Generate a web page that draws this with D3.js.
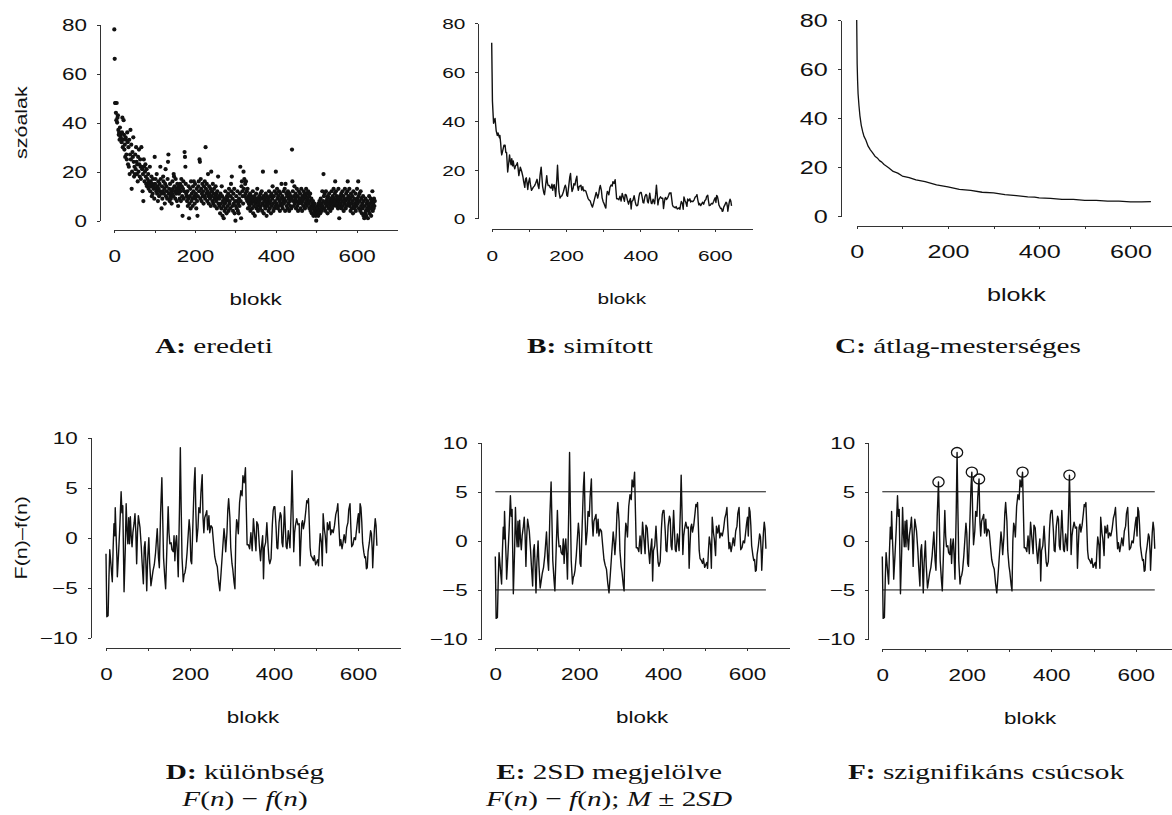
<!DOCTYPE html>
<html>
<head>
<meta charset="utf-8">
<script src="https://cdn.jsdelivr.net/npm/d3@7"></script>
<style>
  body { margin: 0; background: #fff; }
  svg { display: block; }
  .axis path, .axis line { stroke: #333; stroke-width: 1; shape-rendering: crispEdges; }
  .axis text { font-family: "Liberation Sans", Arial, sans-serif; fill: #111; }
  .axis-title { font-family: "Liberation Sans", Arial, sans-serif; fill: #111; }
  .caption { font-family: "Liberation Serif", "Times New Roman", serif; fill: #111; }
</style>
</head>
<body>
<script>

//------------------------------------------------------------------------------
// Data
//------------------------------------------------------------------------------

var blockTicks = [0, 100, 200, 300, 400, 500, 600];
var countTicks = [0, 20, 40, 60, 80];
var diffTicks = [-10, -5, 0, 5, 10];

// A: word forms per block (one value per block, 0..645)
var wordCounts = [
  78,66,48,48,44,41,48,40,42,43,37,35,36,33,38,35,34,33,32,36,
  42,30,33,41,35,29,31,26,34,33,27,25,36,32,23,30,22,33,19,27,
  37,25,31,13,20,28,26,34,24,18,22,19,27,21,30,24,19,23,16,26,
  20,29,23,18,25,22,17,30,22,21,12,19,8,25,22,16,20,23,18,15,
  21,14,17,15,19,13,16,15,22,12,16,14,18,10,15,11,17,13,14,9,
  26,15,17,13,12,19,11,14,8,16,13,10,15,12,22,17,11,5,14,9,
  12,18,16,11,13,7,15,21,10,14,12,9,17,24,27,11,13,8,15,10,
  9,12,7,11,16,13,10,19,18,14,12,9,17,11,13,8,15,12,6,14,
  11,13,9,15,12,8,17,14,10,2,13,16,9,12,28,26,22,15,11,10,
  8,12,6,9,14,1,7,10,13,5,16,8,11,9,6,14,12,16,10,7,
  15,9,11,5,13,8,2,10,14,16,12,25,24,9,17,13,8,11,15,10,
  12,7,14,10,16,9,30,13,11,15,8,12,19,10,7,14,11,9,13,6,
  20,10,12,8,15,7,11,13,9,6,10,14,8,11,5,12,9,18,7,10,
  6,9,3,11,7,5,14,10,2,8,6,1,9,4,7,12,5,8,3,10,
  9,6,11,4,13,7,8,5,10,15,12,18,6,9,4,11,7,13,3,8,
  0,6,10,5,8,12,4,7,3,9,6,11,22,8,1,14,16,12,10,7,
  20,13,17,10,15,11,16,9,12,8,13,5,10,7,9,6,11,4,8,10,
  7,5,9,12,3,8,6,10,2,7,9,11,5,8,13,6,4,9,7,10,
  8,5,11,6,9,12,4,7,20,10,3,8,6,9,5,11,7,2,10,8,
  6,9,4,12,7,5,10,8,3,11,6,9,14,7,4,10,5,12,8,6,
  20,11,7,13,9,5,10,6,12,8,4,11,7,9,15,6,10,5,8,12,
  7,9,13,4,15,8,11,6,10,5,12,7,9,4,11,8,6,10,5,9,
  29,16,12,8,6,10,14,7,9,11,5,8,13,6,10,4,7,12,9,8,
  11,5,9,13,7,4,10,8,6,12,9,11,5,10,7,13,8,6,11,9,
  12,7,10,5,8,11,4,6,9,3,7,5,8,2,6,4,7,3,5,2,
  0,4,6,3,5,2,7,4,8,6,3,9,5,7,4,12,6,8,19,10,
  5,11,7,4,12,8,6,9,3,10,7,5,11,8,6,4,9,7,12,5,
  8,10,6,13,9,7,11,16,8,12,6,10,9,7,5,13,8,1,6,10,
  9,7,11,5,8,12,6,10,4,9,7,13,8,5,11,6,9,12,16,7,
  10,8,13,6,9,4,11,7,5,10,8,3,12,6,9,5,7,11,4,8,
  6,13,9,7,16,10,5,11,8,4,12,6,9,3,7,5,10,2,8,1,
  6,3,9,4,2,7,5,8,1,6,4,10,3,7,5,9,2,8,6,12,
  4,7,5,9,6,8
];

// B: smoothed series F(n), [block, value]
var smoothSeries = [
  [0,72],[1,60],[2,48],[4,42],[5,39],[7,40],[9,41],[12,36],[15,34],[17,35],[19,34],[21,33],
  [22,34],[24,31],[26,27],[27,26],[30,28],[33,30],[36,30],[38,27],[40,27],[43,19],[46,23],
  [48,26],[50,23.5],[52,22],[54,24.5],[56,21.5],[58,23.5],[60,21.4],[62,20.3],[64,21.5],
  [67,22],[69,22.8],[71,20.5],[73,17.5],[75,19.3],[77,21],[79,20],[81,19],[84,17],[86,15],
  [89,12.7],[91,16.2],[93,16.6],[95,14.5],[97,11.8],[99,14.6],[102,16.5],[104,14],[107,11.5],
  [109,12],[112,12.8],[115,13.3],[118,14.3],[122,16],[125,13.2],[127,12.2],[130,17.6],[133,21],
  [135,17],[137,13],[140,10.5],[142,9.7],[145,13.5],[148,17.5],[150,14.5],[152,13.4],[155,13.5],
  [157,12.6],[160,12.4],[162,14],[164,11.5],[166,13.2],[168,13.8],[170,12],[172,9],[175,15.8],
  [177,21.8],[179,15.8],[181,10.8],[184,8.3],[186,9],[188,9.1],[190,9.6],[193,11],[196,12.8],
  [198,13.6],[200,12.5],[202,9.4],[204,9],[207,13],[210,17],[212,18.4],[214,13.9],[216,11],
  [219,12.3],[221,14.2],[224,13.7],[226,15.5],[229,17.3],[231,13],[233,11.5],[235,13],[238,13.3],
  [240,13.6],[242,11.6],[245,13],[247,11.3],[250,11.5],[253,11.2],[256,9.7],[259,8.2],[262,7.5],
  [265,7.1],[268,5.6],[271,4.6],[274,6.3],[277,8.2],[281,10.6],[283,9.7],[285,8.3],[288,10.2],
  [290,12.4],[292,13.5],[295,11.4],[297,8.4],[300,6.7],[302,6.1],[305,4.8],[307,4.2],[309,9.3],
  [311,11],[313,10.6],[315,9.6],[318,12.6],[321,13.7],[324,13.2],[326,15],[329,14.3],[332,15.8],
  [334,11.8],[336,8],[339,8],[342,7.6],[345,9.1],[348,7.1],[351,10.2],[354,8.6],[357,7],
  [359,9.8],[362,9.5],[365,7.4],[368,5.8],[370,7],[373,8.1],[375,3.8],[377,6.9],[380,7.4],
  [383,9.3],[386,6.8],[388,5.5],[390,5.1],[393,5.5],[396,8.9],[398,10.3],[400,10.6],[402,10.6],
  [405,8.4],[407,6.4],[409,6.3],[412,8.9],[415,9.8],[417,9.5],[419,6.8],[421,6.3],[423,8.2],
  [425,10.3],[427,8.2],[429,6.2],[431,6],[434,7.8],[436,7],[438,6],[441,9.9],[443,13.6],
  [445,9.9],[447,5.5],[449,7.4],[451,8.1],[454,8.8],[457,8.2],[460,8.2],[462,4],[464,6.3],
  [466,8.2],[468,8.5],[470,7.7],[473,8.3],[476,9.5],[478,10.4],[480,10.2],[482,10.5],[484,8.1],
  [486,5.6],[488,4.8],[491,4.6],[494,4.3],[496,4.8],[499,3.8],[501,4],[504,4.3],[506,3.7],
  [508,5.5],[510,6.9],[513,6],[515,3.7],[517,8.8],[520,7.2],[522,6.6],[525,4.9],[527,7.9],
  [530,7.2],[533,8],[535,6.7],[538,7.1],[541,6.8],[544,7.5],[547,8.6],[550,9.1],[552,9.7],
  [554,7.8],[557,5.5],[559,6.1],[562,5.2],[564,5.7],[567,6.6],[570,5.8],[573,7.2],[576,7.7],
  [578,9],[581,9.5],[583,7.1],[585,5.2],[588,5.4],[591,6.1],[594,5.9],[597,7],[599,7.8],
  [601,8.4],[603,6.5],[605,9.4],[607,9],[609,7.6],[611,5.5],[614,4.5],[616,4],[618,4.1],
  [620,2.9],[622,3],[624,4.6],[627,5.5],[630,6.6],[632,6.3],[634,4.6],[635,2.9],[637,4.9],
  [639,6.7],[641,7.8],[643,7.1],[645,5.1]
];

// C: average of the artificial texts f(n), [block, value]
var averageSeries = [
  [0,80],[1,62],[2,55],[3,50],[5,45],[7,41],[10,37],[13,34.5],[16,32.5],[20,31],[25,28.5],
  [30,27],[35,25.8],[40,24.4],[45,23.7],[50,22.6],[55,22],[60,21],[70,19.7],[80,18.2],
  [90,17.5],[100,16.3],[115,15.7],[130,14.7],[150,14],[175,12.7],[200,11.9],[225,10.9],
  [250,10.5],[275,9.7],[300,9.4],[325,8.7],[350,8.3],[375,7.8],[390,7.7],[400,7.4],[425,7.2],
  [450,6.8],[475,6.8],[500,6.4],[525,6.4],[550,6.1],[575,6.1],[600,5.8],[625,5.8],[645,5.9]
];

// D-F: difference F(n) - f(n), [block, value]
var diffSeries = [
  [0,-1.6],[2,-7.9],[5,-7.8],[7,-4],[9,-1.2],[12,-2.8],[15,-4.4],[17,-1],[19,1.4],[21,0.2],
  [22,3.0],[24,0.3],[26,-2],[27,-3.9],[30,-1.5],[33,1.2],[36,4.6],[38,2.5],[40,3.2],[43,-5.4],
  [46,-1],[48,3.4],[50,0.8],[52,-0.6],[54,2.0],[56,-0.6],[58,2.1],[60,0.2],[62,-0.9],[64,0.5],
  [67,1.5],[69,2.4],[71,0.6],[73,-2.6],[75,0.5],[77,2.2],[79,1.6],[81,1.0],[84,-0.9],[86,-2.5],
  [89,-4.6],[91,-1],[93,-0.4],[95,-2.6],[97,-5.3],[99,-2.3],[102,0],[104,-2.5],[107,-4.8],
  [109,-4.2],[112,-3.3],[115,-2.7],[118,-1.5],[122,0.9],[125,-2],[127,-3],[130,2.5],[133,6.0],
  [135,2],[137,-2],[140,-4],[142,-5.1],[145,-1],[148,3.1],[150,0.5],[152,-0.6],[155,-0.5],
  [157,-1.2],[160,-1.4],[162,0.2],[164,-2.3],[166,-0.5],[168,0.2],[170,-1.5],[172,-3.9],[175,3],
  [177,9.0],[179,3],[181,-2],[184,-4.4],[186,-3.7],[188,-3.5],[190,-3],[193,-1.5],[196,0.5],
  [198,1.8],[200,0.8],[202,-2.3],[204,-2.6],[207,1.5],[210,5.5],[212,7.0],[214,2.5],[216,-0.4],
  [219,1],[221,3],[224,2.5],[226,4.5],[229,6.3],[231,2.0],[233,0.5],[235,2],[238,2.4],[240,2.7],
  [242,0.8],[245,2.2],[247,0.5],[250,1.2],[253,1.0],[256,-0.5],[259,-1.9],[262,-2.5],[265,-2.9],
  [268,-4.3],[271,-5.3],[274,-3.5],[277,-1.6],[281,0.9],[283,0],[285,-1.4],[288,0.5],[290,2.8],
  [292,3.9],[295,2],[297,-1],[300,-2.6],[302,-3.2],[305,-4.5],[307,-5.1],[309,0],[311,1.8],
  [313,1.4],[315,0.4],[318,3.5],[321,4.7],[324,4.2],[326,6.2],[329,5.5],[332,7.0],[334,3],
  [336,-0.7],[339,-0.7],[342,-1.1],[345,0.5],[348,-1.3],[351,1.9],[354,0.3],[357,-1.3],
  [359,1.6],[362,1.3],[365,-0.7],[368,-2.3],[370,-1],[373,0.2],[375,-4.1],[377,-1],[380,-0.5],
  [383,1.5],[386,-0.9],[388,-2.2],[390,-2.6],[393,-2.1],[396,1.3],[398,2.7],[400,3.1],
  [402,3.1],[405,1],[407,-1],[409,-1.1],[412,1.5],[415,2.5],[417,2.2],[419,-0.5],[421,-0.9],
  [423,1],[425,3.1],[427,1],[429,-0.9],[431,-1.1],[434,0.7],[436,0],[438,-1.0],[441,3],
  [443,6.7],[445,3],[447,-1.4],[449,0.5],[451,1.2],[454,1.9],[457,1.3],[460,1.4],[462,-2.8],
  [464,-0.5],[466,1.4],[468,1.7],[470,0.9],[473,1.6],[476,2.8],[478,3.7],[480,3.5],[482,3.9],
  [484,1.5],[486,-1],[488,-1.8],[491,-2],[494,-2.3],[496,-1.8],[499,-2.7],[501,-2.5],[504,-2.2],
  [506,-2.8],[508,-1],[510,0.4],[513,-0.5],[515,-2.8],[517,2.4],[520,0.8],[522,0.2],[525,-1.5],
  [527,1.5],[530,0.8],[533,1.6],[535,0.3],[538,0.8],[541,0.5],[544,1.2],[547,2.3],[550,2.8],
  [552,3.4],[554,1.5],[557,-0.8],[559,-0.2],[562,-1.1],[564,-0.6],[567,0.3],[570,-0.5],[573,1],
  [576,1.5],[578,2.8],[581,3.4],[583,1.0],[585,-0.9],[588,-0.7],[591,0],[594,-0.2],[597,1.0],
  [599,1.8],[601,2.4],[603,0.5],[605,3.4],[607,3.0],[609,1.6],[611,-0.5],[614,-1.5],[616,-2],
  [618,-1.9],[620,-3.1],[622,-3.0],[624,-1.4],[627,-0.5],[630,0.7],[632,0.4],[634,-1.3],
  [635,-3.0],[637,-1],[639,0.8],[641,1.9],[643,1.2],[645,-0.8]
];

// E/F: M +- 2SD limits and the blocks of the significant peaks
var sdLimits = [5, -5];
var sdSpan = [0, 645];
var peakBlocks = [133, 177, 212, 229, 332, 443];

var captionKeys = ["A:", "B:", "C:", "D:", "E:", "F:"];
var captionNames = ["eredeti", "simított", "átlag-mesterséges", "különbség", "2SD megjelölve", "szignifikáns csúcsok"];
// second caption lines: [text, italic]
var formulaD = [["F",1],["(",0],["n",1],[") \u2212 ",0],["f",1],["(",0],["n",1],[")",0]];
var formulaE = formulaD.concat([["; ",0],["M",1],[" \u00b1 2",0],["SD",1]]);

//------------------------------------------------------------------------------
// Layout
//------------------------------------------------------------------------------

var W = 1172, H = 815;
var SX = 1.36;    // the figure is stretched horizontally

var panels = [
  { id:"A", yAxisX:100,   yTop:24.5,  yBottom:220.7, yDomain:[0,80],   yTicks:countTicks,
    xAxisY:230,   x0:114.3, x7:397,  font:16.5, yTitle:"szóalak", cap:[214,353] },
  { id:"B", yAxisX:478.3, yTop:23.3,  yBottom:218.3, yDomain:[0,80],   yTicks:countTicks,
    xAxisY:228.7, x0:491.7, x7:752,  font:15.3, cap:[590,353] },
  { id:"C", yAxisX:840.7, yTop:20,    yBottom:216,   yDomain:[0,80],   yTicks:countTicks,
    xAxisY:225.7, x0:856.7, x7:1176, font:18.5, cap:[958,353] },
  { id:"D", yAxisX:90.7,  yTop:437.7, yBottom:637.7, yDomain:[-10,10], yTicks:diffTicks,
    xAxisY:647.7, x0:106,   x7:400,  font:16.5, yTitle:"F(n)\u2013f(n)", cap:[245,779], formula:formulaD },
  { id:"E", yAxisX:480.7, yTop:442.7, yBottom:639,   yDomain:[-10,10], yTicks:diffTicks,
    xAxisY:648.3, x0:495.3, x7:789,  font:16.5, cap:[609,779], formula:formulaE },
  { id:"F", yAxisX:868.3, yTop:442.7, yBottom:639,   yDomain:[-10,10], yTicks:diffTicks,
    xAxisY:649.3, x0:882.3, x7:1178, font:16.5, cap:[986,779] }
];

var svg = d3.select("body").append("svg")
  .attr("width", W)
  .attr("height", H);

//--------------------------------------
// Axes for one panel
//--------------------------------------

function drawAxes(p) {
  var g = svg.append("g").attr("class", "panel-" + p.id);
  p.x = d3.scaleLinear().domain([0, 700]).range([p.x0, p.x7]);
  p.y = d3.scaleLinear().domain(p.yDomain).range([p.yBottom, p.yTop]);

  g.append("g")
    .attr("class", "axis")
    .attr("transform", "translate(" + p.yAxisX + ",0)")
    .call(d3.axisLeft(p.y).tickValues(p.yTicks).tickSize(3).tickSizeOuter(0))
    .call(function(a) {
      a.selectAll("text")
        .attr("x", null).attr("dy", "0.36em")
        .attr("transform", "translate(-13,0) scale(" + SX + ",1)")
        .style("font-size", p.font + "px");
    });

  g.append("g")
    .attr("class", "axis")
    .attr("transform", "translate(0," + p.xAxisY + ")")
    .call(d3.axisBottom(p.x).tickValues(blockTicks).tickSize(3).tickSizeOuter(0)
      .tickFormat(function(d) { return d % 200 == 0 ? d : ""; }))
    .call(function(a) {
      a.selectAll("text")
        .attr("y", null).attr("dy", null)
        .attr("transform", "translate(0,32) scale(" + SX + ",1)")
        .style("font-size", p.font + "px");
    });

  g.append("text")
    .attr("class", "axis-title")
    .attr("text-anchor", "middle")
    .attr("transform", "translate(" + ((p.x0 + p.x7) / 2) + "," + (p.xAxisY + 75) + ") scale(" + SX + ",1)")
    .style("font-size", p.font + "px")
    .text("blokk");

  if(p.yTitle) {
    g.append("text")
      .attr("class", "axis-title")
      .attr("text-anchor", "middle")
      .attr("dy", "0.36em")
      .attr("transform", "translate(21," + ((p.yTop + p.yBottom) / 2) + ") rotate(-90) scale(1.3,1)")
      .style("font-size", "16.5px")
      .text(p.yTitle);
  }

  return g;
}

//--------------------------------------
// Captions
//--------------------------------------

function drawCaption(p, i) {
  var t = svg.append("text")
    .attr("class", "caption")
    .attr("text-anchor", "middle")
    .attr("transform", "translate(" + p.cap[0] + "," + p.cap[1] + ") scale(" + SX + ",1)")
    .style("font-size", "21.5px");
  t.append("tspan").style("font-weight", "bold").text(captionKeys[i]);
  t.append("tspan").text(" " + captionNames[i]);

  if(p.formula) {
    var f = svg.append("text")
      .attr("class", "caption")
      .attr("text-anchor", "middle")
      .attr("transform", "translate(" + p.cap[0] + "," + (p.cap[1] + 27) + ") scale(" + SX + ",1)")
      .style("font-size", "21.5px");
    p.formula.forEach(function(s) {
      f.append("tspan").style("font-style", s[1] ? "italic" : "normal").text(s[0]);
    });
  }
}

//------------------------------------------------------------------------------
// Draw
//------------------------------------------------------------------------------

var line = function(p) {
  return d3.line()
    .x(function(d) { return p.x(d[0]); })
    .y(function(d) { return p.y(d[1]); });
};

panels.forEach(function(p, i) {
  var g = drawAxes(p);
  drawCaption(p, i);

  if(p.id == "A") {
    g.append("g").selectAll("circle")
      .data(wordCounts)
      .enter().append("circle")
        .attr("cx", function(d, n) { return p.x(n); })
        .attr("cy", function(d) { return p.y(d); })
        .attr("r", 2.1)
        .attr("fill", "#111");
    return;
  }

  var series = p.id == "B" ? smoothSeries : (p.id == "C" ? averageSeries : diffSeries);

  if(p.id == "E" || p.id == "F") {
    g.selectAll(".sd")
      .data(sdLimits)
      .enter().append("line")
        .attr("class", "sd")
        .attr("x1", p.x(sdSpan[0])).attr("x2", p.x(sdSpan[1]))
        .attr("y1", function(d) { return p.y(d); })
        .attr("y2", function(d) { return p.y(d); })
        .attr("stroke", "#111")
        .attr("stroke-width", 1);
  }

  g.append("path")
    .datum(series)
    .attr("d", line(p))
    .attr("fill", "none")
    .attr("stroke", "#111")
    .attr("stroke-width", p.id == "C" ? 1.3 : 1.4)
    .attr("stroke-linejoin", "round");

  if(p.id == "F") {
    var lookup = new Map(diffSeries.map(function(d) { return [d[0], d[1]]; }));
    g.selectAll(".peak")
      .data(peakBlocks)
      .enter().append("ellipse")
        .attr("class", "peak")
        .attr("cx", function(d) { return p.x(d); })
        .attr("cy", function(d) { return p.y(lookup.get(d)); })
        .attr("rx", 5.6)
        .attr("ry", 5)
        .attr("fill", "none")
        .attr("stroke", "#111")
        .attr("stroke-width", 1.3);
  }
});

</script>
</body>
</html>
